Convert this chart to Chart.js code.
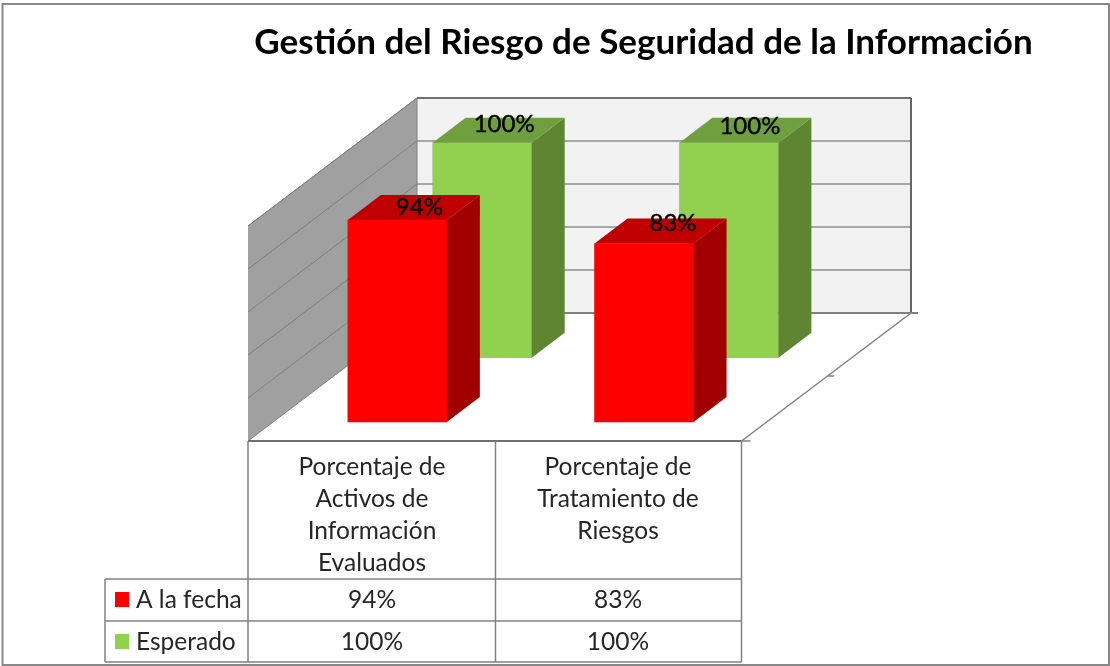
<!DOCTYPE html>
<html>
<head>
<meta charset="utf-8">
<title>Gestión del Riesgo de Seguridad de la Información</title>
<script src="https://cdn.jsdelivr.net/npm/chart.js"></script>
<style>
  html, body { margin: 0; padding: 0; background: #fff; }
  canvas { display: block; }
</style>
</head>
<body>
<canvas id="riesgo" width="1110" height="666"></canvas>
<script>
const titulo = "Gestión del Riesgo de Seguridad de la Información";
const categorias = [
  ["Porcentaje de", "Activos de", "Información", "Evaluados"],
  ["Porcentaje de", "Tratamiento de", "Riesgos"],
];
const series = ["A la fecha", "Esperado"];
const aLaFecha = [94, 83];
const esperado = [100, 100];
const ticksPared = [0, 20, 40, 60, 80, 100];

const ROJO = { frente: "#ff0000", lado: "#a00000", arriba: "#c00000" };
const VERDE = { frente: "#92d050", lado: "#5f8532", arriba: "#6f9f3e" };
const FUENTE = "Lato, sans-serif";
const GRIS = "#808080";

// profundidad de las barras y de la caja 3D
const fondoBarra = { x: 33, y: -25 };
const fondoCaja = { x: 169, y: -128 };
// desplazamiento de cada etiqueta respecto al centro/tope de su barra
const ajusteEtiquetas = [
  [[22, -13], [29, -20]],
  [[22, -18], [21, -16]],
];

function poligono(ctx, puntos, color) {
  ctx.beginPath();
  puntos.forEach((p, i) => (i ? ctx.lineTo(p[0], p[1]) : ctx.moveTo(p[0], p[1])));
  ctx.closePath();
  ctx.fillStyle = color;
  ctx.fill();
}

function linea(ctx, x1, y1, x2, y2, color, ancho) {
  ctx.beginPath();
  ctx.moveTo(x1, y1);
  ctx.lineTo(x2, y2);
  ctx.strokeStyle = color;
  ctx.lineWidth = ancho;
  ctx.stroke();
}

// Marco exterior, paredes, piso y rejilla
const caja = {
  id: "caja",
  beforeDraw(chart) {
    const ctx = chart.ctx;
    ctx.save();
    ctx.fillStyle = "#fff";
    ctx.fillRect(0, 0, chart.width, chart.height);
    ctx.strokeStyle = "#888";
    ctx.lineWidth = 2;
    ctx.strokeRect(2.5, 4, 1106.5, 661);
    ctx.restore();
  },
  beforeDatasetsDraw(chart) {
    const ctx = chart.ctx;
    const esc = chart.scales.yPared;
    const izq = chart.chartArea.left;
    const der = 741.5;
    const piso = chart.chartArea.bottom;
    const atrasX = izq + fondoCaja.x;
    const atrasDer = der + fondoCaja.x + 0.5;
    const atrasPiso = esc.getPixelForValue(0);
    const tope = esc.getPixelForValue(100);
    ctx.save();
    // pared del fondo
    poligono(ctx, [[atrasX, tope], [atrasDer, tope], [atrasDer, atrasPiso], [atrasX, atrasPiso]], "#f2f2f2");
    // pared izquierda
    poligono(ctx, [[izq, piso], [atrasX, atrasPiso], [atrasX, tope], [izq, tope - fondoCaja.y]], "#a0a0a0");
    ticksPared.forEach((t) => {
      const y = esc.getPixelForValue(t);
      if (t > 0 && t < 100) {
        linea(ctx, atrasX, y, atrasDer, y, "#a6a6a6", 2);
      }
      linea(ctx, atrasX, y, izq, y - fondoCaja.y, "#7f7f7f", 1);
    });
    linea(ctx, atrasX, tope, atrasDer, tope, "#707070", 2);
    linea(ctx, atrasDer, tope, atrasDer, atrasPiso, "#666", 2);
    linea(ctx, atrasX, tope, atrasX, atrasPiso, GRIS, 1);
    linea(ctx, izq, tope - fondoCaja.y, atrasX, tope, GRIS, 1);
    linea(ctx, atrasX, atrasPiso, atrasDer + 7, atrasPiso, GRIS, 2);
    linea(ctx, atrasDer, atrasPiso, der, piso, GRIS, 1.5);
    linea(ctx, 828, 376, 834, 376, GRIS, 1.5);
    linea(ctx, der, piso, der + 9, piso, GRIS, 1.5);
    ctx.restore();
  },
  // caras lateral y superior de cada barra
  afterDatasetDraw(chart, args) {
    const ctx = chart.ctx;
    const color = args.index === 0 ? ROJO : VERDE;
    ctx.save();
    args.meta.data.forEach((barra) => {
      const p = barra.getProps(["x", "y", "base", "width"], true);
      const i = p.x - p.width / 2;
      const d = p.x + p.width / 2;
      const dx = fondoBarra.x;
      const dy = fondoBarra.y;
      poligono(ctx, [[d, p.y], [d + dx, p.y + dy], [d + dx, p.base + dy], [d, p.base]], color.lado);
      poligono(ctx, [[i, p.y], [i + dx, p.y + dy], [d + dx, p.y + dy], [d, p.y]], color.arriba);
    });
    ctx.restore();
  },
  afterDatasetsDraw(chart) {
    const ctx = chart.ctx;
    ctx.save();
    ctx.font = "24px " + FUENTE;
    ctx.fillStyle = "#000";
    ctx.strokeStyle = "#000";
    ctx.lineWidth = 0.4;
    ctx.textAlign = "center";
    ctx.textBaseline = "middle";
    chart.data.datasets.forEach((ds, n) => {
      chart.getDatasetMeta(n).data.forEach((barra, i) => {
        const a = ajusteEtiquetas[n][i];
        ctx.fillText(ds.data[i].y + "%", barra.x + a[0], barra.y + a[1]);
        ctx.strokeText(ds.data[i].y + "%", barra.x + a[0], barra.y + a[1]);
      });
    });
    ctx.restore();
  },
};

// Tabla de datos debajo del gráfico
const tabla = {
  id: "tabla",
  afterDraw(chart) {
    const ctx = chart.ctx;
    const izq = chart.chartArea.left;
    const medio = 495.5;
    const der = 741.5;
    const arriba = chart.chartArea.bottom;
    const filas = [579, 621, 662];
    const leyIzq = 105;
    const centros = [372, 618];
    ctx.save();
    linea(ctx, izq, arriba, der, arriba, "#707070", 2);
    [izq, medio, der].forEach((x) => linea(ctx, x, arriba, x, filas[2], GRIS, 1.5));
    filas.forEach((y) => linea(ctx, leyIzq, y, der, y, GRIS, 1.5));
    linea(ctx, leyIzq, filas[0], leyIzq, filas[2], GRIS, 1.5);

    ctx.fillStyle = "#262626";
    ctx.font = "24.5px " + FUENTE;
    ctx.textAlign = "center";
    ctx.textBaseline = "middle";
    categorias.forEach((lineas, c) => {
      lineas.forEach((txt, l) => ctx.fillText(txt, centros[c], 467 + l * 32));
    });
    [aLaFecha, esperado].forEach((vals, f) => {
      const y = filas[f] + 21;
      vals.forEach((v, c) => ctx.fillText(v + "%", centros[c], y));
    });
    ctx.textAlign = "left";
    series.forEach((s, f) => {
      const y = filas[f] + 21;
      ctx.fillStyle = f === 0 ? ROJO.frente : VERDE.frente;
      ctx.fillRect(115, y - 8, 14, 15);
      ctx.fillStyle = "#262626";
      ctx.fillText(s, 136, y);
    });
    ctx.restore();
  },
};

new Chart(document.getElementById("riesgo"), {
  type: "bar",
  data: {
    datasets: [
      {
        label: series[0],
        data: aLaFecha.map((v, i) => ({ x: i, y: v })),
        backgroundColor: ROJO.frente,
        xAxisID: "xRojo",
        yAxisID: "yRojo",
        grouped: false,
        barThickness: 99,
      },
      {
        label: series[1],
        data: esperado.map((v, i) => ({ x: i, y: v })),
        backgroundColor: VERDE.frente,
        xAxisID: "xVerde",
        yAxisID: "yVerde",
        grouped: false,
        barThickness: 99,
      },
    ],
  },
  options: {
    responsive: false,
    animation: false,
    layout: { padding: { top: 23, left: 248, right: 71, bottom: 225 } },
    scales: {
      // cada serie está corrida en su propio eje para dar la profundidad
      xRojo: { type: "linear", display: false, offset: false, min: -0.6054, max: 2.6009 },
      xVerde: { type: "linear", display: false, offset: false, min: -0.9493, max: 2.257 },
      yRojo: { type: "linear", display: false, min: -8.84, max: 150.7 },
      yVerde: { type: "linear", display: false, min: -38.74, max: 120.79 },
      yPared: { type: "linear", display: false, min: -59.53, max: 100 },
    },
    plugins: {
      legend: { display: false },
      tooltip: { enabled: false },
      title: {
        display: true,
        text: titulo,
        color: "#000",
        font: { family: FUENTE, size: 35, weight: "bold", lineHeight: "40px" },
        padding: { top: 0, bottom: 35 },
      },
    },
  },
  plugins: [caja, tabla],
});
</script>
</body>
</html>
